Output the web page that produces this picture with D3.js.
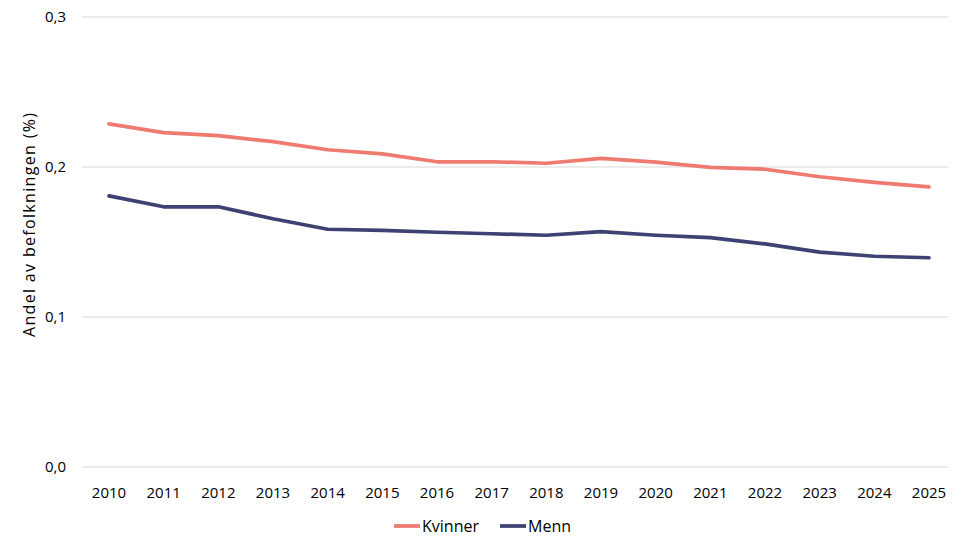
<!DOCTYPE html>
<html lang="no">
<head>
<meta charset="UTF-8">
<title>Andel av befolkningen</title>
<style>
  body { margin: 0; background: #fff; }
  text { font-family: "Open Sans", "Liberation Sans", sans-serif; fill: #000; }
</style>
</head>
<body>
<div id="chart"></div>
<script src="https://d3js.org/d3.v7.min.js"></script>
<script>
var years = [2010, 2011, 2012, 2013, 2014, 2015, 2016, 2017, 2018, 2019, 2020, 2021, 2022, 2023, 2024, 2025]
var kvinner = [0.2287, 0.2229, 0.2209, 0.2169, 0.2115, 0.2088, 0.2035, 0.2035, 0.2025, 0.2058, 0.2033, 0.1998, 0.1985, 0.1935, 0.1897, 0.1867]
var menn = [0.1807, 0.1735, 0.1735, 0.1655, 0.1585, 0.1577, 0.1565, 0.1555, 0.1545, 0.1569, 0.1545, 0.1529, 0.1487, 0.1433, 0.1405, 0.1395]
var yTicks = [0, 0.1, 0.2, 0.3]
var seriesNames = ["Kvinner", "Menn"]
var colors = ["#ee7a70", "#3d4272"]

var width = 970, height = 550
var svg = d3.select("#chart").append("svg").attr("width", width).attr("height", height)

var x = d3.scalePoint().domain(years).range([109, 929])
var y = d3.scaleLinear().domain([0, 0.3]).range([467, 17])

// gridlines
svg.append("g").selectAll("line").data(yTicks).enter().append("line")
  .attr("x1", 82).attr("x2", 948)
  .attr("y1", d => y(d)).attr("y2", d => y(d))
  .attr("stroke", "#d9d9d9").attr("stroke-width", 1)

// y tick labels
svg.append("g").selectAll("text").data(yTicks).enter().append("text")
  .attr("x", 66).attr("y", d => y(d) + 5)
  .attr("text-anchor", "end").style("font-size", "15px")
  .text(d => d3.format(".1f")(d).replace(".", ","))

// x tick labels
svg.append("g").selectAll("text").data(years).enter().append("text")
  .attr("x", d => x(d)).attr("y", 498)
  .attr("text-anchor", "middle").style("font-size", "15px")
  .text(d => d)

// axis title
svg.append("text")
  .attr("transform", "translate(35,225) rotate(-90)")
  .attr("text-anchor", "middle").style("font-size", "16px")
  .attr("textLength", 224).attr("lengthAdjust", "spacing")
  .text("Andel av befolkningen (%)")

var line = d3.line().x((d, i) => x(years[i])).y(d => y(d))

;[kvinner, menn].forEach(function(s, i) {
  svg.append("path").datum(s)
    .attr("d", line)
    .attr("fill", "none")
    .attr("stroke", colors[i])
    .attr("stroke-width", 3.75)
    .attr("stroke-linejoin", "round")
    .attr("stroke-linecap", "round")
})

// legend
var legendX = [394, 500]
var lg = svg.append("g").selectAll("g").data(seriesNames).enter().append("g")
  .attr("transform", (d, i) => "translate(" + legendX[i] + ",526)")
lg.append("line").attr("x1", 0).attr("x2", 26).attr("y1", 0).attr("y2", 0)
  .attr("stroke", (d, i) => colors[i]).attr("stroke-width", 3.75)
lg.append("text").attr("x", 28).attr("y", 6).style("font-size", "16px").text(d => d)
</script>
</body>
</html>
